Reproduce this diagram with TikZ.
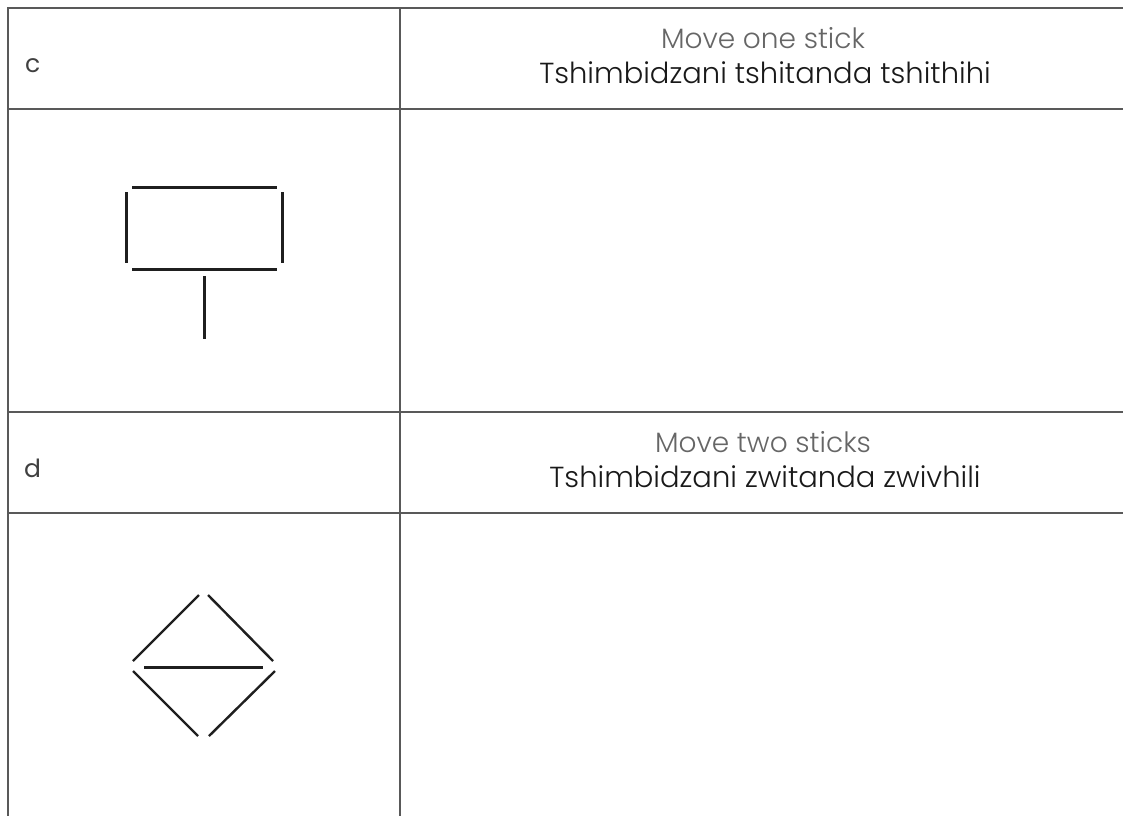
\documentclass[tikz,border=0pt]{standalone}
\usepackage{fontspec}
\setmainfont{Poppins}[UprightFont=* Light]
\newfontfamily\tagfont{Poppins}
\usepackage{tikz}
\usetikzlibrary{positioning}

\begin{document}
\begin{tikzpicture}[x=1pt,y=-1pt,
    grid/.style={draw=black!65,line width=1.6pt},
    stick/.style={draw=black!88,line width=3pt},
    slant/.style={draw=black!88,line width=2.4pt},
    tag/.style={font=\tagfont\fontsize{25}{29}\selectfont,text=black!75,anchor=base west,inner sep=0pt},
    eng/.style={font=\fontsize{28}{32}\selectfont,text=black!60,anchor=base,inner sep=0pt},
    ven/.style={font=\fontsize{29}{33}\selectfont,text=black!90,anchor=base,inner sep=0pt}
  ]
  \useasboundingbox (0,0) rectangle (1123,815);
  % table lines
  \draw[grid] (1130,8) -- (8,8) -- (8,820);
  \draw[grid] (400,8) -- (400,820);
  \foreach \y in {109,412,513}
    \draw[grid] (8,\y) -- (1130,\y);
  % row c
  \node[tag] (c) at (25,72) {c};
  \node[eng] (move1) at (763,48) {Move one stick};
  \node[ven] (ven1) at (765,83) {Tshimbidzani tshitanda tshithihi};
  % rectangle with a stick
  \draw[stick] (132,187) -- (277,187);
  \draw[stick] (132,269) -- (277,269);
  \draw[stick] (126,192) -- (126,263);
  \draw[stick] (282,192) -- (282,263);
  \draw[stick] (204,276) -- (204,339);
  % row d
  \node[tag] (d) at (24,477) {d};
  \node[eng] (move2) at (763,452) {Move two sticks};
  \node[ven] (ven2) at (765,487) {Tshimbidzani zwitanda zwivhili};
  % diamond
  \draw[slant] (133,661) -- (199,595);
  \draw[slant] (208,595) -- (273,661);
  \draw[slant] (133,671) -- (198,736);
  \draw[slant] (209,736) -- (275,671);
  \draw[stick] (144,667) -- (263,667);
\end{tikzpicture}
\end{document}
